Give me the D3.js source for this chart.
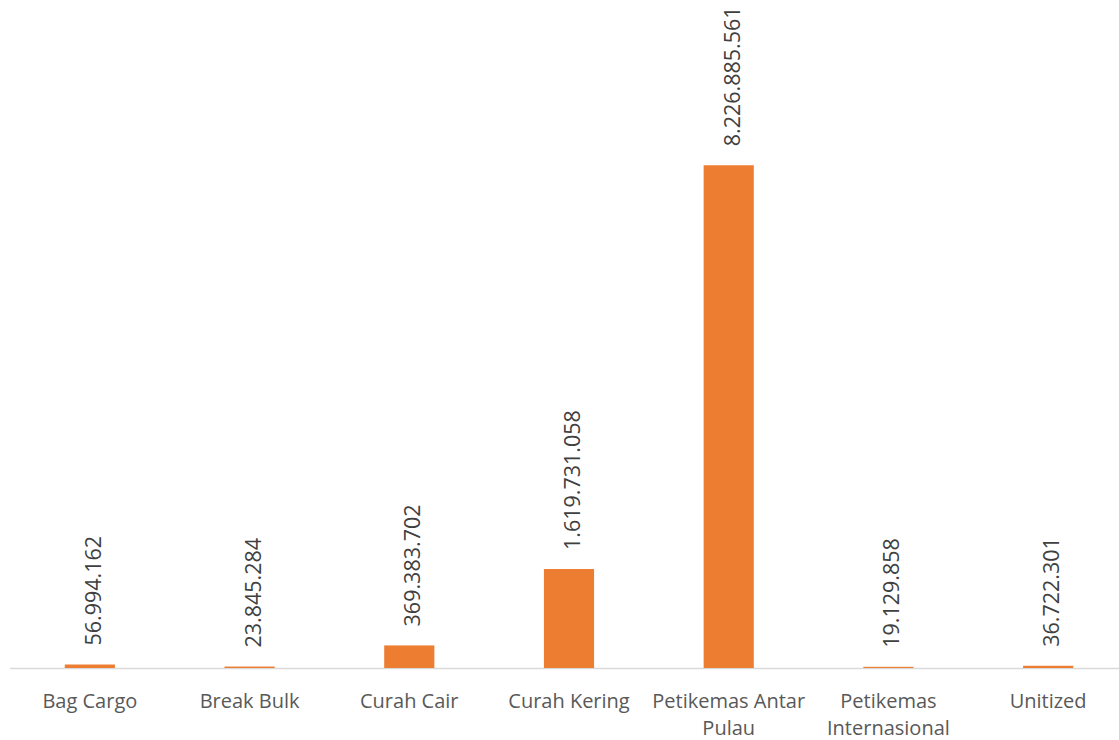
<!DOCTYPE html>
<html>
<head>
<meta charset="utf-8">
<script src="https://cdn.jsdelivr.net/npm/d3@7"></script>
<style>
  body { margin: 0; background: #fff; }
  text { font-family: "Open Sans", "Noto Sans", sans-serif; }
</style>
</head>
<body>
<svg id="chart" width="1119" height="740"></svg>
<script>
// カテゴリ
const categories = ["Bag Cargo", "Break Bulk", "Curah Cair", "Curah Kering",
  "Petikemas Antar Pulau", "Petikemas Internasional", "Unitized"];
// 値
const values = [56994162, 23845284, 369383702, 1619731058, 8226885561, 19129858, 36722301];
// ラベル文字列
const valueLabels = ["56.994.162", "23.845.284", "369.383.702", "1.619.731.058",
  "8.226.885.561", "19.129.858", "36.722.301"];
// 折り返したカテゴリ名
const catLines = [["Bag Cargo"], ["Break Bulk"], ["Curah Cair"], ["Curah Kering"],
  ["Petikemas Antar", "Pulau"], ["Petikemas", "Internasional"], ["Unitized"]];

const svg = d3.select("#chart");
const baseY = 668;

const x = d3.scaleBand()
  .domain(categories)
  .range([10, 1128])
  .paddingInner(0.686)
  .paddingOuter(0.343);

const y = d3.scaleLinear()
  .domain([0, 9e9])
  .range([baseY, 118]);

// 軸線
svg.append("line")
  .attr("x1", 10).attr("x2", 1119)
  .attr("y1", baseY + 0.5).attr("y2", baseY + 0.5)
  .attr("stroke", "#d9d9d9")
  .attr("stroke-width", 1.5);

// 棒
svg.append("g").selectAll("rect")
  .data(values)
  .enter()
  .append("rect")
  .attr("x", (d, i) => x(categories[i]))
  .attr("width", x.bandwidth())
  .attr("y", d => y(d))
  .attr("height", d => baseY - y(d))
  .attr("fill", "#ed7d31");

// 値ラベル
svg.append("g").selectAll("text")
  .data(values)
  .enter()
  .append("text")
  .text((d, i) => valueLabels[i])
  .attr("transform", (d, i) => {
    let cx = x(categories[i]) + x.bandwidth() / 2;
    return "translate(" + [cx + 11, y(d) - 19].join(",") + ") rotate(-90)";
  })
  .attr("text-anchor", "start")
  .attr("font-size", "21.5px")
  .attr("fill", "#404040");

// カテゴリラベル
const cg = svg.append("g");
catLines.forEach((lines, i) => {
  let cx = x(categories[i]) + x.bandwidth() / 2;
  let t = cg.append("text")
    .attr("text-anchor", "middle")
    .attr("font-size", "20px")
    .attr("fill", "#595959");
  lines.forEach((ln, j) => {
    t.append("tspan")
      .attr("x", cx)
      .attr("y", 708 + j * 27)
      .text(ln);
  });
});
</script>
</body>
</html>
